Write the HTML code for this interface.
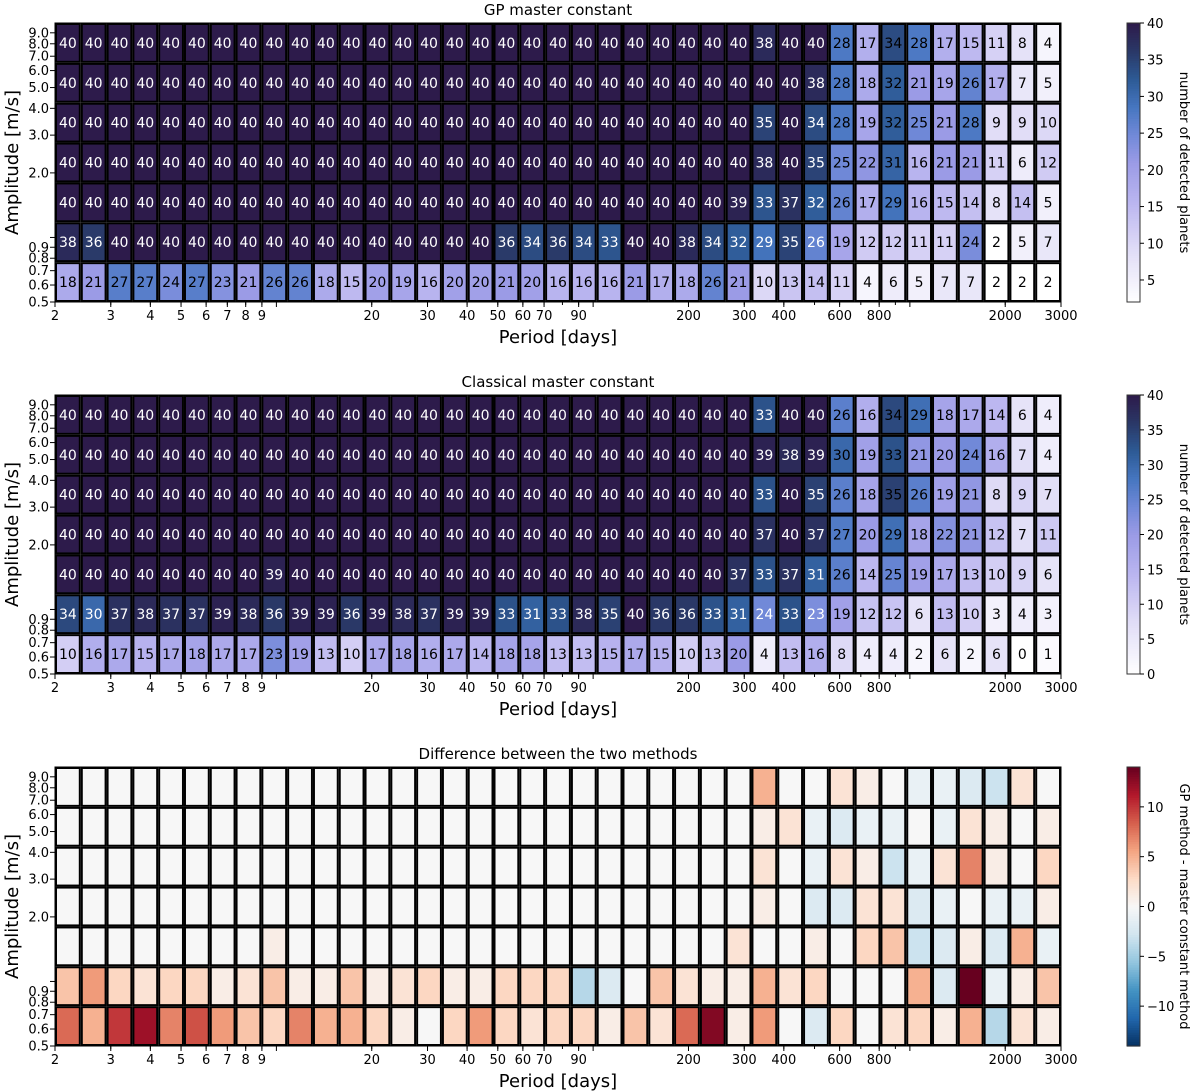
<!DOCTYPE html>
<html><head><meta charset="utf-8">
<style>
html,body{margin:0;padding:0;background:#fff;}
svg{display:block;font-family:"DejaVu Sans","Liberation Sans",sans-serif;}
</style></head>
<body>
<svg id="fig" width="1200" height="1092" viewBox="0 0 1200 1092" xmlns="http://www.w3.org/2000/svg"></svg>
<script>
// ---- data ----
const periodTicks = [2,3,4,5,6,7,8,9,20,30,40,50,60,70,90,200,300,400,600,800,2000,3000];
const ampTicks = [0.5,0.6,0.7,0.8,0.9,2.0,3.0,4.0,5.0,6.0,7.0,8.0,9.0];
const nCols = 39;
const titles = ["GP master constant","Classical master constant","Difference between the two methods"];
function fill(n,v){return Array(n).fill(v);}
// rows top (highest amplitude) to bottom
const gpRow1 = fill(27,40).concat([38,40,40,28,17,34,28,17,15,11,8,4]);
const gpRow2 = fill(29,40).concat([38,28,18,32,21,19,26,17,7,5]);
const gpRow3 = fill(27,40).concat([35,40,34,28,19,32,25,21,28,9,9,10]);
const gpRow4 = fill(27,40).concat([38,40,35,25,22,31,16,21,21,11,6,12]);
const gpRow5 = fill(26,40).concat([39,33,37,32,26,17,29,16,15,14,8,14,5]);
const gpRow6 = [38,36].concat(fill(15,40)).concat([36,34,36,34,33,40,40,38,34,32,29,35,26,19,12,12,11,11,24,2,5,7]);
const gpRow7 = [18,21,27,27,24,27,23,21,26,26,18,15,20,19,16,20,20,21,20,16,16,16,21,17,18,26,21,10,13,14,11,4,6,5,7,7,2,2,2];
const clRow1 = fill(27,40).concat([33,40,40,26,16,34,29,18,17,14,6,4]);
const clRow2 = fill(27,40).concat([39,38,39,30,19,33,21,20,24,16,7,4]);
const clRow3 = fill(27,40).concat([33,40,35,26,18,35,26,19,21,8,9,7]);
const clRow4 = fill(27,40).concat([37,40,37,27,20,29,18,22,21,12,7,11]);
const clRow5 = [40,40,40,40,40,40,40,40,39].concat(fill(17,40)).concat([37,33,37,31,26,14,25,19,17,13,10,9,6]);
const clRow6 = [34,30,37,38,37,37,39,38,36,39,39,36,39,38,37,39,39,33,31,33,38,35,40,36,36,33,31,24,33,23,19,12,12,6,13,10,3,4,3];
const clRow7 = [10,16,17,15,17,18,17,17,23,19,13,10,17,18,16,17,14,18,18,13,13,15,17,15,10,13,20,4,13,16,8,4,4,2,6,2,6,0,1];
const gpRows = [gpRow1,gpRow2,gpRow3,gpRow4,gpRow5,gpRow6,gpRow7];
const clRows = [clRow1,clRow2,clRow3,clRow4,clRow5,clRow6,clRow7];
const diffRows = gpRows.map((r,i)=>r.map((v,j)=>v-clRows[i][j]));

// ---- geometry ----
const NS="http://www.w3.org/2000/svg";
const svg=document.getElementById('fig');
const X0=55, X1=1061, P0=2, P1=3000;
function xScale(p){return X0+(Math.log10(p)-Math.log10(P0))/(Math.log10(P1)-Math.log10(P0))*(X1-X0);}
const PH=279, A0=0.5, A1=10;
function yScale(a,top){return top+PH-(Math.log10(a)-Math.log10(A0))/(Math.log10(A1)-Math.log10(A0))*PH;}
function el(tag,attrs,parent){const e=document.createElementNS(NS,tag);for(const k in attrs)e.setAttribute(k,attrs[k]);(parent||svg).appendChild(e);return e;}
function txt(s,attrs,parent){const e=el('text',attrs,parent);e.textContent=s;return e;}
function lerpHex(a,b,t){const pa=[1,3,5].map(i=>parseInt(a.substr(i,2),16)),pb=[1,3,5].map(i=>parseInt(b.substr(i,2),16));return 'rgb('+pa.map((v,i)=>Math.round(v+(pb[i]-v)*t)).join(',')+')';}
function cmapFrom(stops){return t=>{t=Math.max(0,Math.min(1,t));for(let i=1;i<stops.length;i++){if(t<=stops[i][0]){const s=stops[i-1],e=stops[i];return lerpHex(s[1],e[1],(t-s[0])/(e[0]-s[0]));}}return stops[stops.length-1][1];};}
const seqMap=cmapFrom([[0,'#ffffff'],[0.2,'#dedaf6'],[0.35,'#bcb7f0'],[0.5,'#9b9be6'],[0.6,'#7189d8'],[0.7,'#4676c0'],[0.8,'#2d5a95'],[0.9,'#2a3867'],[1,'#2d1b4b']]);
const divMap=cmapFrom([[0,'#053061'],[0.1,'#2166ac'],[0.2,'#4393c3'],[0.3,'#92c5de'],[0.4,'#d1e5f0'],[0.5,'#f7f7f7'],[0.6,'#fddbc7'],[0.7,'#f4a582'],[0.8,'#d6604d'],[0.9,'#b2182b'],[1,'#67001f']]);

const panels=[
 {top:23,rows:gpRows,vmin:2,vmax:40,map:seqMap,labels:true,cbTicks:[5,10,15,20,25,30,35,40],cbLabel:'number of detected planets',name:'gp'},
 {top:395,rows:clRows,vmin:0,vmax:40,map:seqMap,labels:true,cbTicks:[0,5,10,15,20,25,30,35,40],cbLabel:'number of detected planets',name:'classical'},
 {top:767,rows:diffRows,vmin:-14,vmax:14,map:divMap,labels:false,cbTicks:[-10,-5,0,5,10],cbLabel:'GP method - master constant method',name:'difference'}
];

panels.forEach((P,pi)=>{
 const g=el('g',{});
 
 
 const top=P.top;
 const t=txt(titles[pi],{x:558,y:top-8,'text-anchor':'middle','font-size':15,fill:'#000'},g);
 
 
 const cw=(X1-X0)/nCols, rh=PH/P.rows.length;
 P.rows.forEach((row,ri)=>{
  row.forEach((v,ci)=>{
   const x=X0+ci*cw, y=top+ri*rh;
   const r=el('rect',{x:x+1,y:y+1,width:cw-2,height:rh-2,fill:P.map((v-P.vmin)/(P.vmax-P.vmin)),stroke:'#000','stroke-width':2},g);
   
   
   if(P.labels){
    const white = ri<P.rows.length-1 && ci<30;
    const tt=txt(String(v),{x:x+cw/2,y:y+rh/2+5,'text-anchor':'middle','font-size':14,fill:white?'#fff':'#000'},g);
    
    
   }
  });
 });
 el('rect',{x:X0,y:top,width:X1-X0,height:PH,fill:'none',stroke:'#000','stroke-width':1},g);
 // x ticks
 for(let d=0;d<4;d++)for(let m=1;m<10;m++){const p=m*Math.pow(10,d);if(p<P0||p>P1)continue;const x=xScale(p);el('line',{x1:x,x2:x,y1:top+PH,y2:top+PH+(m===1?5:3),stroke:'#000','stroke-width':1},g);}
 periodTicks.forEach(p=>{const x=xScale(p);el('line',{x1:x,x2:x,y1:top+PH,y2:top+PH+5,stroke:'#000','stroke-width':1},g);
  const l=txt(String(p),{x:x,y:top+PH+18,'text-anchor':'middle','font-size':13},g);
  
  });
 const xl=txt('Period [days]',{x:558,y:top+PH+41,'text-anchor':'middle','font-size':18},g);
 
 
 // y ticks
 el('line',{x1:X0-5,x2:X0,y1:yScale(1,top),y2:yScale(1,top),stroke:'#000'},g);
 ampTicks.forEach(a=>{const y=yScale(a,top);el('line',{x1:X0-5,x2:X0,y1:y,y2:y,stroke:'#000'},g);
  const l=txt(a.toFixed(1),{x:X0-6,y:y+4.5,'text-anchor':'end','font-size':13},g);
  
  });
 const yl=txt('Amplitude [m/s]',{x:0,y:0,'text-anchor':'middle','font-size':18,transform:`translate(18,${top+PH/2}) rotate(-90)`},g);
 
 
 // colorbar
 const cx=1127,cwid=13,N=120;
 const cb=el('g',{},g);
 
 
 for(let i=0;i<N;i++){const v0=P.vmin+(P.vmax-P.vmin)*i/N;const y=top+PH-(i+1)*PH/N;el('rect',{x:cx,y:y,width:cwid,height:PH/N+0.6,fill:P.map((v0-P.vmin)/(P.vmax-P.vmin)+0.5/N)},cb);}
 el('rect',{x:cx,y:top,width:cwid,height:PH,fill:'none',stroke:'#333','stroke-width':1},cb);
 P.cbTicks.forEach(v=>{const y=top+PH-(v-P.vmin)/(P.vmax-P.vmin)*PH;el('line',{x1:cx+cwid,x2:cx+cwid+4,y1:y,y2:y,stroke:'#000'},cb);
  txt(v<0?'\u2212'+Math.abs(v):String(v),{x:cx+cwid+7,y:y+5,'font-size':13},cb);});
 const cl=txt(P.cbLabel,{x:0,y:0,'text-anchor':'middle','font-size':13,transform:`translate(1180,${top+PH/2}) rotate(90)`},cb);
 
 
});
</script>
</body></html>
